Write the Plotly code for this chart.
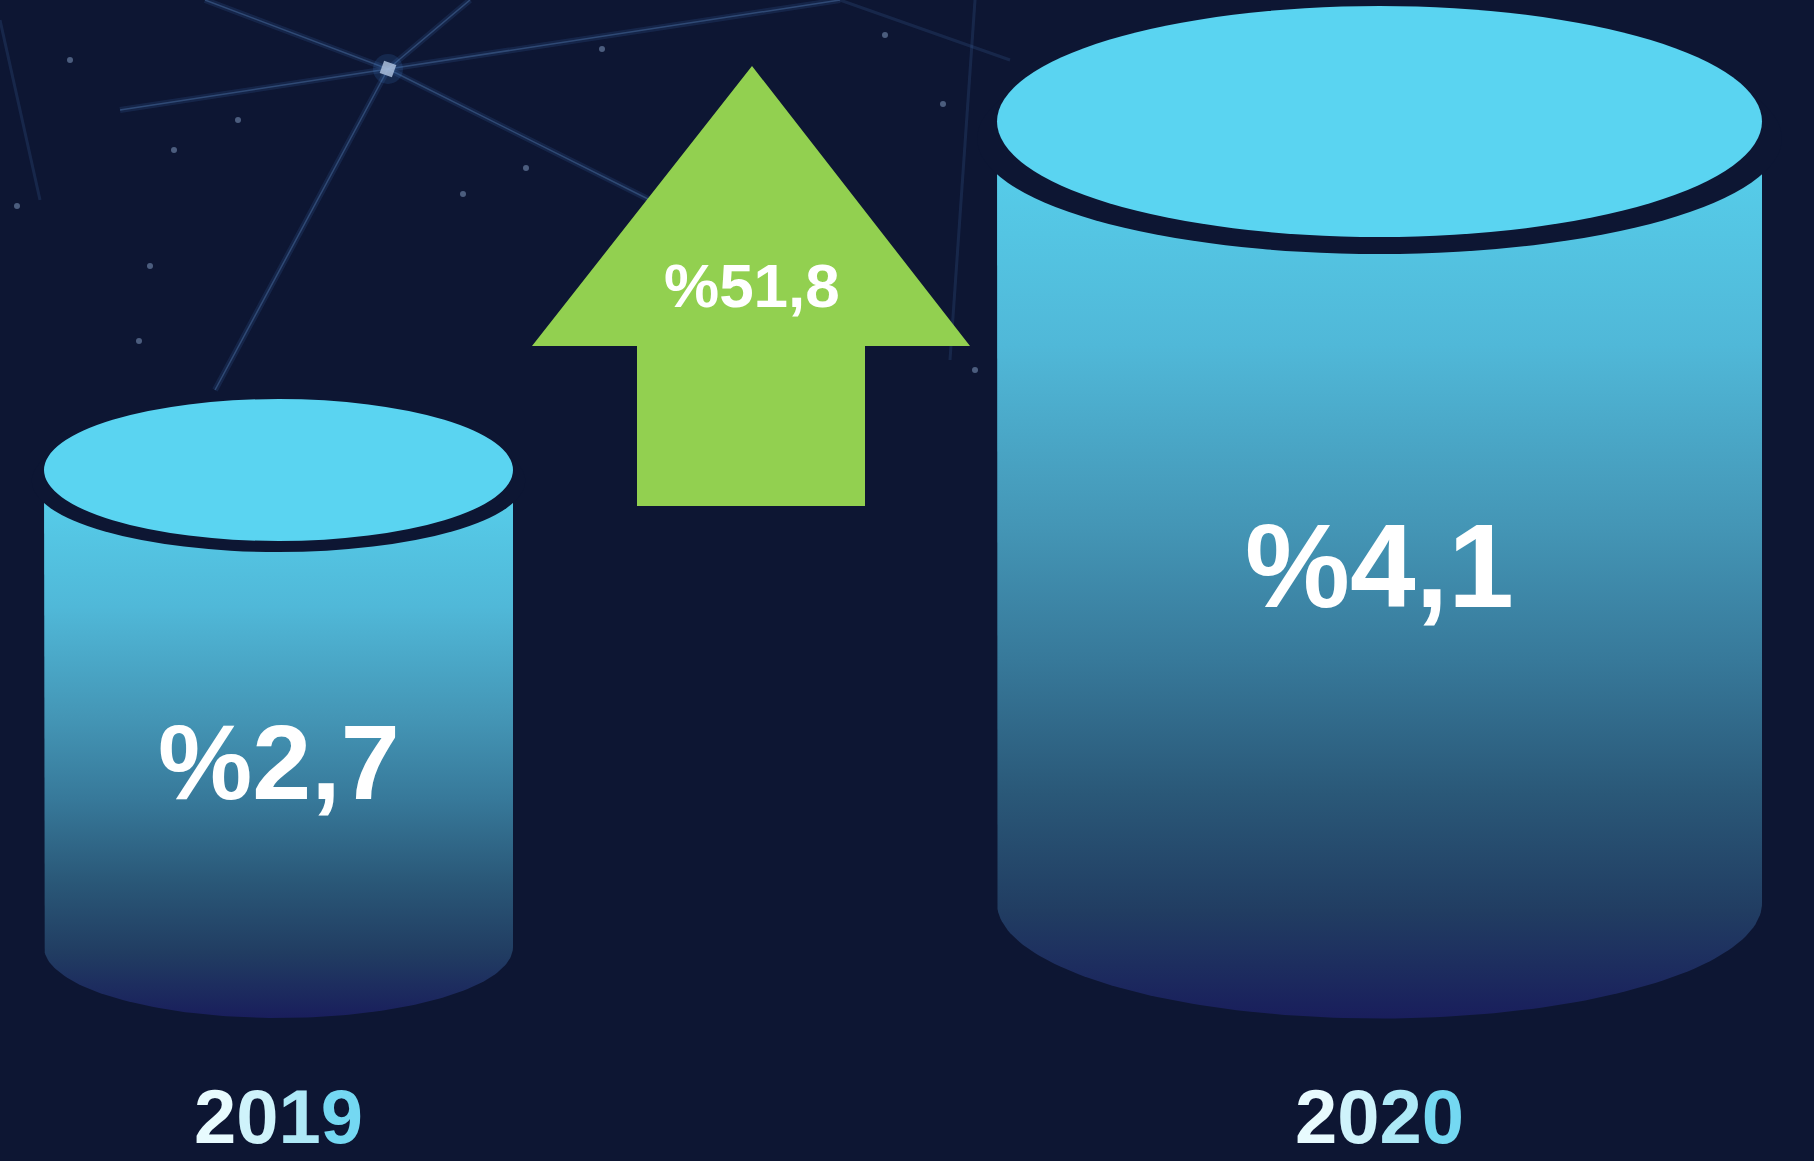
import numpy as np
import plotly.graph_objects as go

# ---------------- data ----------------
years = ["2019", "2020"]
values = [2.7, 4.1]
value_labels = ["%2,7", "%4,1"]
change_label = "%51,8"

# ---------------- layout geometry (pixels of the 1814x1161 canvas) ----------------
W, H = 1814, 1161
cyl_cx = [278.5, 1379.5]
cyl_rx = [234.5, 382.5]
cyl_top_cy = [470, 121.5]
cyl_ry = [71, 115.5]
cyl_bot_cy = [947, 903]
cyl_band = [11, 17]
label_y = [762, 566]
label_size = [106, 118]
year_y = 1116
year_size = 76

arrow_tip = (752, 66)
arrow_wing = (532, 970, 346)
arrow_shaft = (637, 865, 506)

BG = "#0D1633"
TOP = "#5AD4F1"
GREEN = "#92D050"
body_scale = [[0.0, "#58D2EE"], [0.25, "#50B8D8"], [0.45, "#4496B6"],
              [0.6, "#37799A"], [0.75, "#2A5878"], [0.88, "#213D62"], [1.0, "#191E5C"]]
year_char_colors = ["#E8FBFE", "#CFF3FB", "#AEE9F7", "#74D8F2"]

fig = go.Figure()

# ---------------- faint network background ----------------
node = (388, 69)
net_ends = [(205, 0), (840, 0), (650, 200), (215, 390), (120, 110), (470, 0)]
for ex, ey in net_ends:
    fig.add_trace(go.Scatter(x=[node[0], ex], y=[node[1], ey], mode="lines",
                             line=dict(color="rgba(70,120,190,0.16)", width=6),
                             hoverinfo="skip", showlegend=False))
    fig.add_trace(go.Scatter(x=[node[0], ex], y=[node[1], ey], mode="lines",
                             line=dict(color="rgba(110,160,220,0.30)", width=1.5),
                             hoverinfo="skip", showlegend=False))
for seg in [((975, 0), (950, 360)), ((840, 0), (1010, 60)), ((0, 20), (40, 200))]:
    fig.add_trace(go.Scatter(x=[seg[0][0], seg[1][0]], y=[seg[0][1], seg[1][1]], mode="lines",
                             line=dict(color="rgba(80,130,200,0.16)", width=3),
                             hoverinfo="skip", showlegend=False))
stars_x = [526, 885, 602, 174, 17, 150, 463, 943, 975, 139, 238, 70, 1420, 880]
stars_y = [168, 35, 49, 150, 206, 266, 194, 104, 370, 341, 120, 60, 10, 280]
fig.add_trace(go.Scatter(x=stars_x, y=stars_y, mode="markers",
                         marker=dict(size=6, color="rgba(170,200,240,0.40)"),
                         hoverinfo="skip", showlegend=False))
fig.add_trace(go.Scatter(x=[node[0]], y=[node[1]], mode="markers",
                         marker=dict(size=30, color="rgba(60,120,200,0.18)"),
                         hoverinfo="skip", showlegend=False))
fig.add_trace(go.Scatter(x=[node[0]], y=[node[1]], mode="markers",
                         marker=dict(size=13, symbol="square", color="rgba(170,190,220,0.85)",
                                     angle=20),
                         hoverinfo="skip", showlegend=False))

# ---------------- cylinders ----------------
t = np.linspace(np.pi, 0, 120)
shapes = []
for i in range(len(years)):
    cx, rx, cyt, ry, cyb = cyl_cx[i], cyl_rx[i], cyl_top_cy[i], cyl_ry[i], cyl_bot_cy[i]
    xs = [cx - rx] + list(cx + rx * np.cos(t)) + [cx + rx, cx - rx]
    ys = [cyt] + list(cyb + ry * np.sin(t)) + [cyt, cyt]
    fig.add_trace(go.Scatter(x=xs, y=ys, mode="lines", line=dict(width=0),
                             fill="toself",
                             fillgradient=dict(type="vertical", colorscale=body_scale,
                                               start=cyt, stop=cyb + ry),
                             hoverinfo="skip", showlegend=False))
    band = cyl_band[i]
    rxd = rx * 1.052
    shapes.append(dict(type="circle", xref="x", yref="y", layer="above",
                       x0=cx - rxd, x1=cx + rxd, y0=cyt + band - ry, y1=cyt + band + ry,
                       fillcolor=BG, line=dict(width=0)))
    shapes.append(dict(type="circle", xref="x", yref="y", layer="above",
                       x0=cx - rx, x1=cx + rx, y0=cyt - ry, y1=cyt + ry,
                       fillcolor=TOP, line=dict(width=0)))

# ---------------- arrow ----------------
ax = [arrow_tip[0], arrow_wing[1], arrow_shaft[1], arrow_shaft[1], arrow_shaft[0],
      arrow_shaft[0], arrow_wing[0], arrow_tip[0]]
ay = [arrow_tip[1], arrow_wing[2], arrow_wing[2], arrow_shaft[2], arrow_shaft[2],
      arrow_wing[2], arrow_wing[2], arrow_tip[1]]
fig.add_trace(go.Scatter(x=ax, y=ay, mode="lines", line=dict(width=0),
                         fill="toself", fillcolor=GREEN,
                         hoverinfo="skip", showlegend=False))

# ---------------- text ----------------
font_family = "Arial, Liberation Sans, sans-serif"
annotations = []
for i in range(len(years)):
    annotations.append(dict(x=cyl_cx[i], y=label_y[i], xref="x", yref="y",
                            text="<b>%s</b>" % value_labels[i], showarrow=False,
                            xanchor="center", yanchor="middle",
                            font=dict(family=font_family, size=label_size[i], color="white")))
    yr = "".join("<span style='color:%s'>%s</span>" % (year_char_colors[k % 4], ch)
                 for k, ch in enumerate(years[i]))
    annotations.append(dict(x=cyl_cx[i], y=year_y, xref="x", yref="y",
                            text="<b>%s</b>" % yr, showarrow=False,
                            xanchor="center", yanchor="middle",
                            font=dict(family=font_family, size=year_size, color="#E8FBFE")))
annotations.append(dict(x=arrow_tip[0], y=285, xref="x", yref="y",
                        text="<b>%s</b>" % change_label, showarrow=False,
                        xanchor="center", yanchor="middle",
                        font=dict(family=font_family, size=62, color="white")))

fig.update_layout(
    width=W, height=H, margin=dict(l=0, r=0, t=0, b=0),
    paper_bgcolor=BG, plot_bgcolor=BG,
    xaxis=dict(range=[0, W], visible=False, fixedrange=True),
    yaxis=dict(range=[H, 0], visible=False, fixedrange=True),
    shapes=shapes, annotations=annotations, showlegend=False,
)

fig.write_html("out.html", config={"displayModeBar": False},
               post_script="document.body.style.margin='0';")
